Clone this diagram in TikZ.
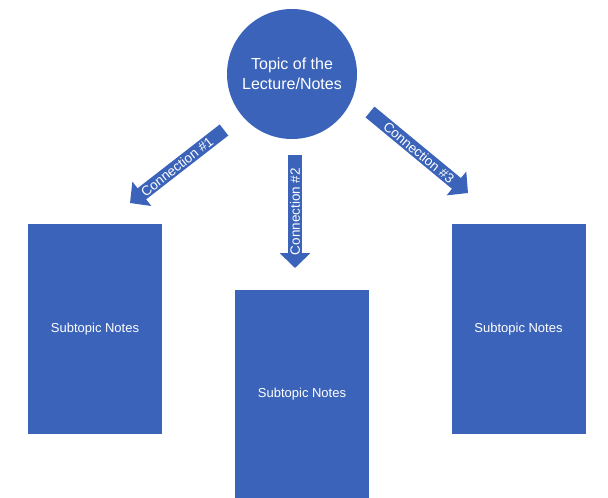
\documentclass[tikz,border=0pt]{standalone}
\usepackage{fontspec}
\setmainfont{Liberation Sans}
\usetikzlibrary{positioning,arrows.meta}
\definecolor{slideblue}{RGB}{58,99,185}

\begin{document}
\begin{tikzpicture}[x=1pt,y=1pt,
    topic/.style={circle, fill=slideblue, text=white, minimum size=130pt,
        inner sep=0pt, align=center, font=\fontsize{16}{20}\selectfont},
    subnote/.style={rectangle, fill=slideblue, text=white, minimum width=134pt,
        minimum height=210pt, font=\fontsize{13}{15}\selectfont},
    conn/.style={slideblue, line width=14pt, -{Triangle[width=30pt,length=15pt]}},
    connlabel/.style={text=white, inner sep=0pt, font=\fontsize{13.5}{15}\selectfont}]
    \useasboundingbox (0,0) rectangle (608,-498);

    \node[topic] (topic) at (292,-74) {Topic of the\\Lecture/Notes};

    % subtopic boxes
    \node[subnote] (sub1) at (95,-329) {Subtopic Notes};
    \node[subnote, minimum height=208pt] (sub2) at (302,-394) {Subtopic Notes};
    \node[subnote] (sub3) at (518.5,-329) {Subtopic Notes};

    % connection arrows
    \coordinate (c1s) at (224,-130);
    \coordinate (c1e) at (130,-203);
    \coordinate (c2s) at (295,-155);
    \coordinate (c2e) at (295,-268);
    \coordinate (c3s) at (370,-112);
    \coordinate (c3e) at (468,-193);

    \draw[conn] (c1s) -- node[connlabel, sloped] {Connection \#1} (c1e);
    \draw[conn] (c2s) -- node[connlabel, rotate=90] {Connection \#2} (c2e);
    \draw[conn] (c3s) -- node[connlabel, sloped] {Connection \#3} (c3e);
\end{tikzpicture}
\end{document}
